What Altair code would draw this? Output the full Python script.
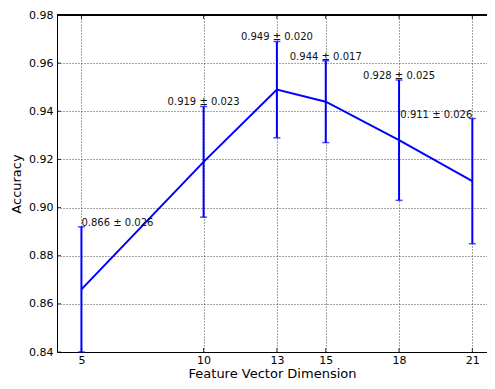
import altair as alt
import pandas as pd

dims = [5, 10, 13, 15, 18, 21]
acc = [0.866, 0.919, 0.949, 0.944, 0.928, 0.911]
err = [0.026, 0.023, 0.020, 0.017, 0.025, 0.026]
labels = [f"{a:.3f} \u00b1 {e:.3f}" for a, e in zip(acc, err)]
x_ticks = [5, 10, 13, 15, 18, 21]
y_ticks = [0.84, 0.86, 0.88, 0.90, 0.92, 0.94, 0.96, 0.98]

df = pd.DataFrame({
    "dim": dims, "acc": acc,
    "lo": [a - e for a, e in zip(acc, err)],
    "hi": [a + e for a, e in zip(acc, err)],
    "label": labels,
    "idx": list(range(len(dims))),
})
xt = pd.DataFrame({"t": x_ticks})
yt = pd.DataFrame({"t": y_ticks})

W, H = 430, 337
FONT = "DejaVu Sans"
BLUE = "#0000ff"

xs = alt.Scale(domain=[4, 21.6], nice=False, zero=False)
ys = alt.Scale(domain=[0.84, 0.98], nice=False, zero=False)

xaxis = alt.Axis(values=x_ticks, title="Feature Vector Dimension", grid=True,
                 tickSize=0, labelPadding=2, titlePadding=2, format="d")
yaxis = alt.Axis(values=y_ticks, title="Accuracy", grid=True, format=".2f",
                 tickSize=0, labelPadding=4, titlePadding=5)

base = alt.Chart(df)

line = base.mark_line(color=BLUE, strokeWidth=2).encode(
    x=alt.X("dim:Q", scale=xs, axis=xaxis),
    y=alt.Y("acc:Q", scale=ys, axis=yaxis),
)
bars = base.mark_rule(color=BLUE, strokeWidth=2).encode(
    x="dim:Q", y="lo:Q", y2="hi:Q")
cap_lo = base.mark_tick(color=BLUE, orient="horizontal", size=7, thickness=1.5).encode(
    x="dim:Q", y="lo:Q")
cap_hi = base.mark_tick(color=BLUE, orient="horizontal", size=7, thickness=1.5).encode(
    x="dim:Q", y="hi:Q")

txt_kw = dict(font=FONT, fontSize=10, color="#111", baseline="middle", dy=-4)
t_first = base.transform_filter("datum.idx == 0").mark_text(align="left", **txt_kw).encode(
    x="dim:Q", y="hi:Q", text="label:N")
t_mid = base.transform_filter("datum.idx > 0 && datum.idx < 5").mark_text(align="center", **txt_kw).encode(
    x="dim:Q", y="hi:Q", text="label:N")
t_last = base.transform_filter("datum.idx == 5").mark_text(align="right", **txt_kw).encode(
    x="dim:Q", y="hi:Q", text="label:N")

tick_bot = alt.Chart(xt).mark_rule(color="black", strokeWidth=0.8).encode(
    x="t:Q", y=alt.value(H), y2=alt.value(H - 4))
tick_top = alt.Chart(xt).mark_rule(color="black", strokeWidth=0.8).encode(
    x="t:Q", y=alt.value(0), y2=alt.value(4))
tick_left = alt.Chart(yt).mark_rule(color="black", strokeWidth=0.8).encode(
    y="t:Q", x=alt.value(0), x2=alt.value(4))
top_border = alt.Chart(xt).mark_rule(color="black", strokeWidth=1).encode(
    x=alt.value(0), x2=alt.value(W), y=alt.value(0))

chart = alt.layer(
    line, bars, cap_lo, cap_hi, t_first, t_mid, t_last,
    tick_bot, tick_top, tick_left, top_border
).properties(
    width=W, height=H,
    autosize=alt.AutoSizeParams(type="none"),
    padding={"left": 49, "top": 7, "right": 0, "bottom": 29},
).configure_view(
    stroke=None
).configure_axis(
    labelFont=FONT, titleFont=FONT, labelFontSize=11, titleFontSize=13,
    titleFontWeight="normal", labelColor="black", titleColor="black",
    domainColor="black", domainWidth=1,
    gridColor="black", gridDash=[1, 2], gridWidth=0.8, gridOpacity=0.9,
)

chart.save("out.html", embed_options={"renderer": "svg", "actions": False})
